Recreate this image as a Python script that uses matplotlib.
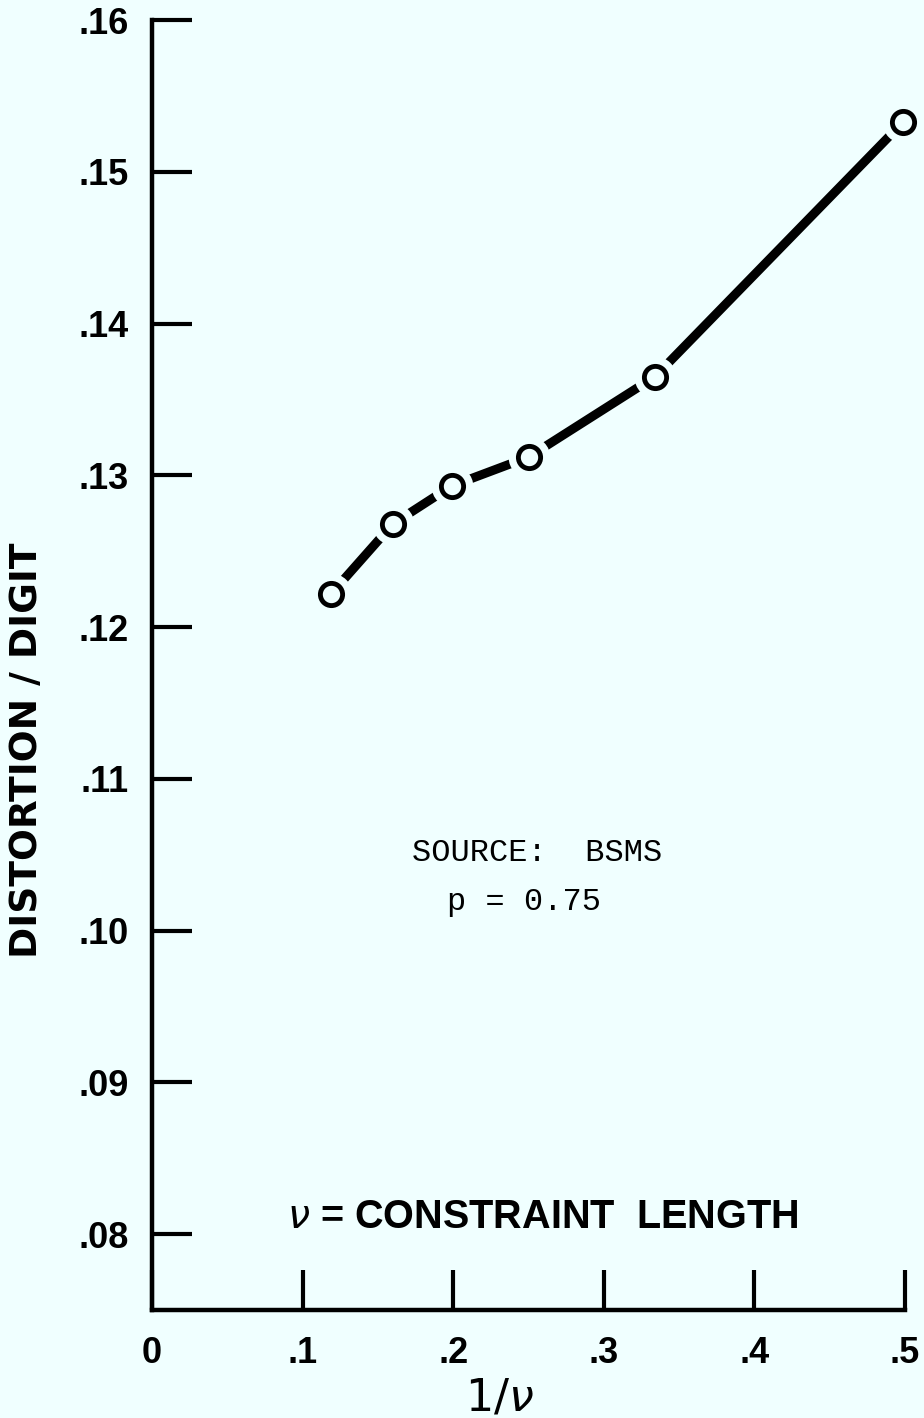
import matplotlib
matplotlib.use("Agg")
import matplotlib.pyplot as plt

# ---- data ----
inv_nu = [0.119, 0.160, 0.199, 0.250, 0.334, 0.499]
distortion = [0.1222, 0.1268, 0.1293, 0.1312, 0.1365, 0.1533]

x_ticks = [0.0, 0.1, 0.2, 0.3, 0.4, 0.5]
x_tick_labels = ["0", ".1", ".2", ".3", ".4", ".5"]
y_ticks = [0.08, 0.09, 0.10, 0.11, 0.12, 0.13, 0.14, 0.15, 0.16]
y_tick_labels = [".08", ".09", ".10", ".11", ".12", ".13", ".14", ".15", ".16"]

x_label = r"$1/\nu$"
y_label = "DISTORTION / DIGIT"
note_source = "SOURCE:  BSMS"
note_p = "p = 0.75"
note_nu = r"$\nu$" + " = CONSTRAINT  LENGTH"

# ---- styling ----
BG = "#F0FFFF"
W, H = 924, 1418
DPI = 100

fig = plt.figure(figsize=(W / DPI, H / DPI), dpi=DPI, facecolor=BG)
left, right, top, bottom = 152, 905, 20, 1310
ax = fig.add_axes([left / W, 1 - bottom / H, (right - left) / W, (bottom - top) / H])
ax.set_facecolor(BG)
ax.set_xlim(0, 0.5)
ax.set_ylim(0.075, 0.16)

for s in ["top", "right"]:
    ax.spines[s].set_visible(False)
for s in ["left", "bottom"]:
    ax.spines[s].set_linewidth(3.2)
    ax.spines[s].set_capstyle("projecting")

# data line with small gaps around the hollow markers
ax.plot(inv_nu, distortion, color="black", lw=6.5, solid_capstyle="round",
        zorder=3, clip_on=False)
ax.plot(inv_nu, distortion, ls="none", marker="o", ms=30, mfc=BG, mec=BG,
        mew=0, zorder=4, clip_on=False)
ax.plot(inv_nu, distortion, ls="none", marker="o", ms=16, mfc=BG, mec="black",
        mew=3.5, zorder=5, clip_on=False)

tick_font = dict(family="Liberation Sans", weight="bold", size=26)
ax.set_xticks(x_ticks)
ax.set_xticklabels(x_tick_labels, **tick_font)
ax.set_yticks(y_ticks)
ax.set_yticklabels(y_tick_labels, **tick_font)
ax.tick_params(axis="both", direction="in", length=29, width=3, color="black")
ax.tick_params(axis="y", pad=17)
ax.tick_params(axis="x", pad=19)


def fx(px):
    return px / W


def fy(py):
    return 1 - py / H


fig.text(fx(27), fy(750), y_label, rotation=90, ha="center", va="center",
         family="DejaVu Sans", weight="bold", size=27)
fig.text(fx(500), fy(1398), x_label, ha="center", va="center", size=32)

fig.text(fx(412), fy(861), note_source, ha="left", va="baseline",
         family="Liberation Mono", size=23)
fig.text(fx(447), fy(910), note_p, ha="left", va="baseline",
         family="Liberation Mono", size=23)
fig.text(fx(287), fy(1228), note_nu, ha="left", va="baseline",
         family="Liberation Sans", weight="bold", size=28.5)

fig.savefig("out.png", dpi=DPI, facecolor=BG)
